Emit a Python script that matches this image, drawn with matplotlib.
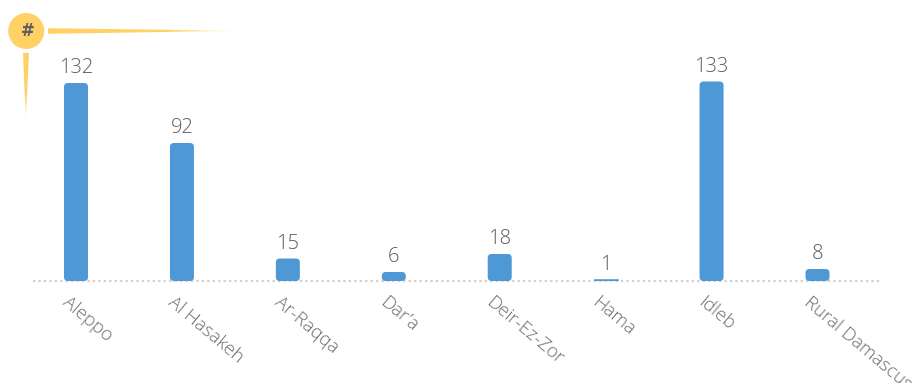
import numpy as np
import matplotlib
matplotlib.use("Agg")
import matplotlib.pyplot as plt
from matplotlib.patches import FancyBboxPatch, Polygon, Circle, Rectangle

categories = ["Aleppo", "Al Hasakeh", "Ar-Raqqa", "Dar’a", "Deir-Ez-Zor", "Hama", "Idleb", "Rural Damascus"]
values = [132, 92, 15, 6, 18, 1, 133, 8]

W, H = 914, 383
BLUE = "#4d98d5"
GOLD = "#ffd166"
plt.rcParams["font.family"] = ["Open Sans", "DejaVu Sans"]

fig = plt.figure(figsize=(W / 100, H / 100), dpi=100)
fig.patch.set_facecolor("white")

# main axes: baseline at y=281 px, 1.5 px per unit, 105.93 px per category
ax = fig.add_axes([33 / W, (H - 281) / H, 845 / W, 281 / H])
step = 105.93
ax.set_xlim(-43 / step, 7 + 60.5 / step)
ax.set_ylim(0, 281 / 1.5)
ax.axis("off")

ax.plot([-43 / step, 7 + 63 / step], [0.2, 0.2], color="#cfcfcf", lw=1.6,
        linestyle=(0, (1.0, 1.45)), zorder=1, clip_on=False, dash_capstyle="butt")

bar_w = 24 / step
aspect = step / 1.5
for i, (cat, v) in enumerate(zip(categories, values)):
    h_px = v * 1.5
    r_px = min(4.0, h_px / 2)
    if h_px < 3:
        ax.add_patch(Rectangle((i - bar_w / 2, 0.3), bar_w, v, facecolor=BLUE, edgecolor=BLUE,
                               linewidth=0.4, zorder=2))
    else:
        ax.add_patch(FancyBboxPatch((i - bar_w / 2, 0), bar_w, v,
                                    boxstyle=f"round,pad=0,rounding_size={r_px / step}",
                                    mutation_aspect=aspect, facecolor=BLUE,
                                    edgecolor="none", zorder=2))
    ax.annotate(str(v), (i, v), xytext=(0, 7), textcoords="offset points",
                ha="center", va="baseline", fontsize=14.5, color="#5c5c5c",
                fontweight="light", annotation_clip=False)
    ax.annotate(cat, (i, 0), xytext=(-4, -9), textcoords="offset points",
                ha="left", va="top", rotation=-40, rotation_mode="anchor",
                fontsize=13.5, color="#6e6e6e", fontweight="light", annotation_clip=False)

# overlay in pixel coordinates for the decorative marker
ov = fig.add_axes([0, 0, 1, 1], facecolor="none")
ov.set_xlim(0, W)
ov.set_ylim(H, 0)
ov.axis("off")

rgb = matplotlib.colors.to_rgb(GOLD)

def spike(points, extent, vertical):
    n = 256
    k = int(n * 0.6)
    a = np.ones(n)
    a[k:] = np.linspace(1, 0, n - k)
    if vertical:
        img = np.zeros((n, 1, 4))
        img[:, 0, :3] = rgb
        img[:, 0, 3] = a
    else:
        img = np.zeros((1, n, 4))
        img[0, :, :3] = rgb
        img[0, :, 3] = a
    im = ov.imshow(img, extent=extent, origin="upper", aspect="auto", zorder=3)
    clip = Polygon(points, closed=True, transform=ov.transData, facecolor="none", edgecolor="none")
    ov.add_patch(clip)
    im.set_clip_path(clip)

spike([(48, 28.2), (48, 33.8), (243, 30.8)], (48, 243, 34, 28), False)
spike([(23, 53), (29, 53), (25.8, 122)], (23, 29, 122, 53), True)
ov.set_xlim(0, W)
ov.set_ylim(H, 0)

ov.add_patch(Circle((26.2, 31), 18, facecolor=GOLD, edgecolor="none", zorder=4))
ov.text(28.2, 31, "#", ha="center", va="center", fontsize=12, fontweight="bold",
        color="#5f5f5f", zorder=5, fontfamily="DejaVu Sans")

fig.savefig("out.png", dpi=100)
